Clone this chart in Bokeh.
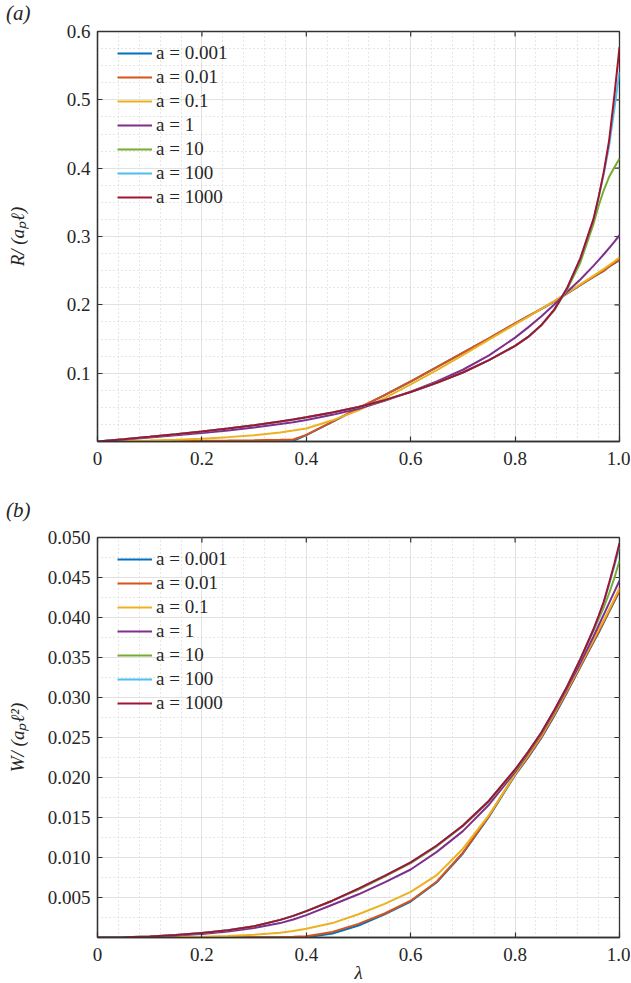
import math
from bokeh.plotting import figure
from bokeh.models import FixedTicker, Legend, LegendItem, Range1d, Div
from bokeh.layouts import column
from bokeh.embed import file_html
from bokeh.resources import INLINE

# ---------------- data ----------------
lam = [0, 0.05, 0.1, 0.15, 0.2, 0.25, 0.3, 0.35, 0.375, 0.4, 0.45, 0.5, 0.55, 0.6,
       0.65, 0.7, 0.75, 0.8, 0.825, 0.85, 0.875, 0.9, 0.925, 0.95, 0.96, 0.97, 0.98, 0.99, 1.0]

series_labels = ["a = 0.001", "a = 0.01", "a = 0.1", "a = 1", "a = 10", "a = 100", "a = 1000"]
series_colors = ["#0072BD", "#D95319", "#EDB120", "#7E2F8E", "#77AC30", "#4DBEEE", "#A2142F"]

# panel (a): R/(a_p l)
R_a0001 = [0, 0, 0, 0, 0, 0, 0, 0.0001, 0.0008, 0.0094, 0.0288, 0.0486, 0.0678, 0.0878,
           0.1088, 0.1298, 0.1508, 0.1728, 0.1833, 0.1938, 0.2048, 0.2168, 0.2288, 0.2408,
           0.2453, 0.2498, 0.2558, 0.2608, 0.2655]
R_a001 = [0, 0.0002, 0.0004, 0.0007, 0.001, 0.0014, 0.0019, 0.0025, 0.003, 0.0097, 0.029, 0.049,
          0.068, 0.088, 0.109, 0.13, 0.151, 0.173, 0.1835, 0.194, 0.205, 0.217, 0.229, 0.241,
          0.2455, 0.25, 0.256, 0.261, 0.266]
R_a01 = [0, 0.0006, 0.0015, 0.0027, 0.0042, 0.0064, 0.0093, 0.0133, 0.016, 0.019, 0.031, 0.0455,
         0.0635, 0.0835, 0.1045, 0.1265, 0.149, 0.1715, 0.1825, 0.194, 0.2055, 0.2175, 0.23, 0.2425,
         0.2475, 0.2525, 0.258, 0.2635, 0.2695]
R_a1 = [0, 0.0028, 0.0058, 0.009, 0.0124, 0.0162, 0.0205, 0.0255, 0.0283, 0.0315, 0.039, 0.048,
        0.0595, 0.073, 0.088, 0.105, 0.126, 0.152, 0.167, 0.183, 0.2005, 0.219, 0.237, 0.257,
        0.2655, 0.274, 0.283, 0.292, 0.302]
R_a10 = [0, 0.0033, 0.0068, 0.0105, 0.0146, 0.019, 0.0237, 0.0292, 0.0322, 0.0355, 0.0425, 0.0505,
         0.0605, 0.0725, 0.086, 0.101, 0.119, 0.14, 0.153, 0.17, 0.192, 0.223, 0.262, 0.318,
         0.345, 0.368, 0.387, 0.401, 0.414]
R_a100 = [0, 0.0033, 0.0068, 0.0105, 0.0146, 0.019, 0.0237, 0.0292, 0.0322, 0.0355, 0.0425, 0.0505,
          0.0605, 0.0725, 0.086, 0.101, 0.119, 0.14, 0.153, 0.17, 0.193, 0.225, 0.268, 0.325,
          0.357, 0.392, 0.432, 0.486, 0.541]
R_a1000 = [0, 0.0033, 0.0068, 0.0105, 0.0146, 0.019, 0.0237, 0.0292, 0.0322, 0.0355, 0.0425, 0.0505,
           0.0605, 0.0725, 0.086, 0.101, 0.119, 0.14, 0.153, 0.17, 0.193, 0.225, 0.268, 0.325,
           0.358, 0.395, 0.44, 0.505, 0.577]

# panel (b): W/(a_p l^2)
W_a0001 = [0, 0, 0, 0, 0, 0, 0, 0, 0, 0.00002, 0.0005, 0.0015, 0.0029, 0.0045, 0.0069, 0.0105,
           0.0151, 0.0203, 0.0225, 0.0249, 0.0277, 0.0307, 0.0338, 0.0369, 0.0381, 0.0394,
           0.0407, 0.042, 0.0433]
W_a001 = [0, 0, 0, 0, 0.00001, 0.00002, 0.00003, 0.00005, 0.00008, 0.00015, 0.0007, 0.0017, 0.003,
          0.0046, 0.007, 0.0106, 0.0152, 0.0204, 0.0226, 0.025, 0.0278, 0.0308, 0.0339, 0.037,
          0.0382, 0.0395, 0.0408, 0.0421, 0.0434]
W_a01 = [0, 0, 0.00002, 0.00005, 0.0001, 0.0002, 0.00035, 0.0006, 0.0008, 0.0011, 0.0018, 0.0029,
         0.0042, 0.0057, 0.0078, 0.0111, 0.0153, 0.0204, 0.0228, 0.0252, 0.028, 0.031, 0.0341, 0.0372,
         0.0385, 0.0397, 0.041, 0.0423, 0.0437]
W_a1 = [0, 0.00002, 0.0001, 0.00024, 0.00045, 0.00075, 0.0012, 0.0018, 0.00225, 0.0028, 0.0041,
        0.0054, 0.0069, 0.0085, 0.0107, 0.0133, 0.0166, 0.0207, 0.023, 0.0254, 0.0282, 0.0312, 0.0343,
        0.0376, 0.039, 0.0404, 0.0418, 0.0432, 0.0446]
W_a10 = [0, 0.00003, 0.00012, 0.0003, 0.00055, 0.0009, 0.0014, 0.0022, 0.0027, 0.0033, 0.0046,
         0.006, 0.0076, 0.0093, 0.0114, 0.0139, 0.017, 0.0209, 0.0231, 0.0255, 0.0283, 0.0314, 0.0348,
         0.0383, 0.0398, 0.0413, 0.043, 0.0449, 0.0471]
W_a100 = [0, 0.00003, 0.00012, 0.0003, 0.00055, 0.0009, 0.0014, 0.0022, 0.0027, 0.0033, 0.0046,
          0.0061, 0.0077, 0.0094, 0.0115, 0.014, 0.0171, 0.021, 0.0232, 0.0256, 0.0284, 0.0314, 0.0348,
          0.0385, 0.0401, 0.0419, 0.0441, 0.0464, 0.0488]
W_a1000 = [0, 0.00003, 0.00012, 0.0003, 0.00055, 0.0009, 0.0014, 0.0022, 0.0027, 0.0033, 0.0046,
           0.0061, 0.0077, 0.0094, 0.0115, 0.014, 0.0171, 0.021, 0.0232, 0.0256, 0.0284, 0.0314, 0.0348,
           0.0385, 0.0402, 0.042, 0.0443, 0.0467, 0.0493]

R_series = [R_a0001, R_a001, R_a01, R_a1, R_a10, R_a100, R_a1000]
W_series = [W_a0001, W_a001, W_a01, W_a1, W_a10, W_a100, W_a1000]

x_ticks = [0, 0.2, 0.4, 0.6, 0.8, 1.0]
x_tick_labels = ["0", "0.2", "0.4", "0.6", "0.8", "1.0"]
x_minor = [0.04, 0.08, 0.12, 0.16, 0.24, 0.28, 0.32, 0.36, 0.44, 0.48, 0.52, 0.56,
           0.64, 0.68, 0.72, 0.76, 0.84, 0.88, 0.92, 0.96]

R_ticks = [0.1, 0.2, 0.3, 0.4, 0.5, 0.6]
R_tick_labels = ["0.1", "0.2", "0.3", "0.4", "0.5", "0.6"]
R_minor = [0.025, 0.05, 0.075, 0.125, 0.15, 0.175, 0.225, 0.25, 0.275, 0.325, 0.35, 0.375,
           0.425, 0.45, 0.475, 0.525, 0.55, 0.575]

W_ticks = [0.005, 0.01, 0.015, 0.02, 0.025, 0.03, 0.035, 0.04, 0.045, 0.05]
W_tick_labels = ["0.005", "0.010", "0.015", "0.020", "0.025", "0.030", "0.035", "0.040", "0.045", "0.050"]
W_minor = [0.0025, 0.0075, 0.0125, 0.0175, 0.0225, 0.0275, 0.0325, 0.0375, 0.0425, 0.0475]

# ---------------- styling ----------------
FONT = "Liberation Serif"
FS = "19px"
AXC = "#333333"
TXC = "#262626"


def style_axis(ax, standoff):
    ax.axis_line_color = AXC
    ax.axis_line_width = 1.3
    ax.major_tick_line_color = AXC
    ax.major_tick_line_width = 1.2
    ax.major_tick_in = 5
    ax.major_tick_out = 0
    ax.minor_tick_in = 0
    ax.minor_tick_out = 0
    ax.major_label_text_font = FONT
    ax.major_label_text_color = TXC
    ax.major_label_text_font_size = FS
    ax.major_label_standoff = standoff
    ax.axis_label_text_font = FONT
    ax.axis_label_text_font_style = "italic"
    ax.axis_label_text_font_size = FS
    ax.axis_label_text_color = TXC


def make_panel(series, y_end, yticks, ylabels, yminor, frame_h, b_top, b_bot, ylab, ylab_standoff):
    p = figure(frame_width=522, frame_height=frame_h, x_range=Range1d(0, 1), y_range=Range1d(0, y_end),
               output_backend="svg", toolbar_location=None,
               min_border_left=97, min_border_right=11, min_border_top=b_top, min_border_bottom=b_bot)
    p.outline_line_color = AXC
    p.outline_line_width = 1.3
    p.background_fill_color = "white"
    p.border_fill_alpha = 0

    xt = FixedTicker(ticks=x_ticks, minor_ticks=x_minor)
    yt = FixedTicker(ticks=yticks, minor_ticks=yminor)
    p.xaxis.ticker = xt
    p.yaxis.ticker = yt
    p.xaxis.major_label_overrides = {t: s for t, s in zip(x_ticks, x_tick_labels)}
    p.yaxis.major_label_overrides = {t: s for t, s in zip(yticks, ylabels)}
    style_axis(p.xaxis[0], 10)
    style_axis(p.yaxis[0], 7)
    p.yaxis.axis_label = ylab
    p.yaxis.axis_label_standoff = ylab_standoff

    for g in (p.xgrid[0], p.ygrid[0]):
        g.grid_line_color = "#e2e2e2"
        g.grid_line_width = 1
        g.minor_grid_line_color = "#cdcdcd"
        g.minor_grid_line_dash = "1 3"
        g.minor_grid_line_width = 1
    p.xgrid[0].ticker = xt
    p.ygrid[0].ticker = yt

    # inward ticks on the top and right sides of the box
    p.ray(x=x_ticks, y=[y_end] * len(x_ticks), length=5, length_units="screen",
          angle=-math.pi / 2, line_color=AXC, line_width=1.2)
    p.ray(x=[1.0] * len(yticks), y=yticks, length=5, length_units="screen",
          angle=math.pi, line_color=AXC, line_width=1.2)

    items = []
    for vals, lab, col in zip(series, series_labels, series_colors):
        r = p.line(lam, vals, line_color=col, line_width=2)
        items.append(LegendItem(label=lab, renderers=[r]))

    leg = Legend(items=items, location=(20, frame_h - 177), padding=0, margin=0,
                 spacing=2, glyph_height=22, label_height=22, glyph_width=35,
                 label_standoff=4, border_line_color=None, background_fill_alpha=0,
                 label_text_font=FONT, label_text_font_size=FS, label_text_color=TXC)
    p.add_layout(leg, "center")
    return p


def panel_tag(text, height, pad_top):
    html = ('<div style="font-family:\'Liberation Serif\';font-style:italic;font-size:21px;'
            'line-height:21px;color:#262626;padding-left:6px;padding-top:%dpx;">%s</div>' % (pad_top, text))
    return Div(text=html, width=630, height=height, margin=(0, 0, 0, 0),
               styles={"overflow": "visible"})


div_a = panel_tag("(a)", 20, 3)
pa = make_panel(R_series, 0.6, R_ticks, R_tick_labels, R_minor, 410, 11, 37, "R/ (aₚℓ)", 36)

div_b = panel_tag("(b)", 47, 22)
pb = make_panel(W_series, 0.05, W_ticks, W_tick_labels, W_minor, 400, 12, 46, "W/ (aₚℓ²)", 17)
pb.xaxis.axis_label = "λ"
pb.xaxis.axis_label_standoff = -2

layout = column(div_a, pa, div_b, pb, spacing=0)
open("out.html", "w").write(file_html(layout, INLINE))
